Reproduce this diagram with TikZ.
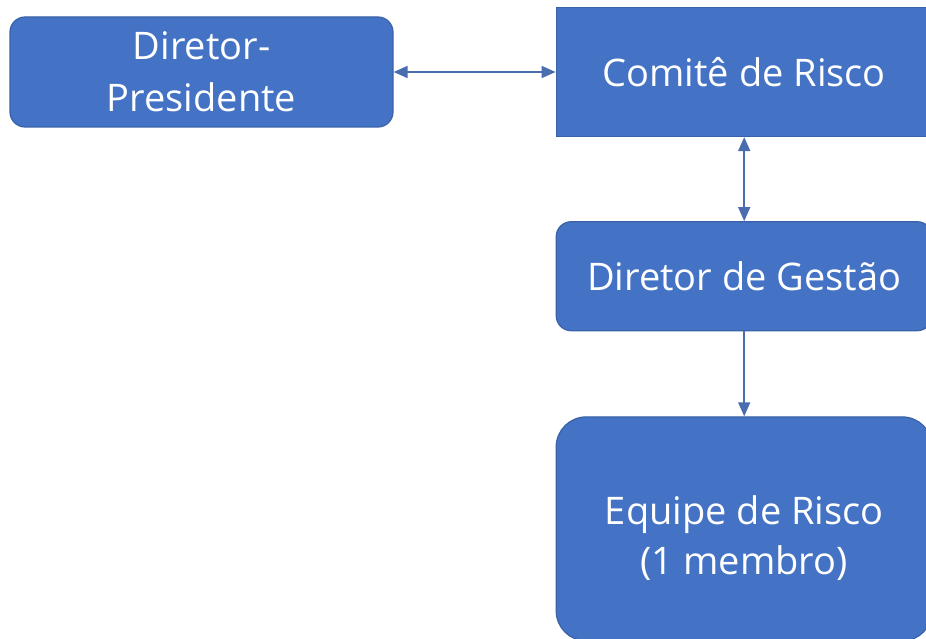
\documentclass[tikz,border=0pt]{standalone}
\usepackage{fontspec}
\setmainfont{Open Sans}
\usetikzlibrary{positioning,arrows.meta}

\definecolor{boxblue}{HTML}{4472C4}
\definecolor{boxline}{HTML}{3A62A8}
\definecolor{arrowblue}{HTML}{4A6DB0}

\tikzstyle{block} = [draw=boxline, fill=boxblue, rectangle, line width=1.2pt,
    text=white, align=center, font=\fontsize{38}{52}\selectfont,
    minimum width=376pt, inner sep=0pt]
\tikzstyle{roundblock} = [block, rounded corners=15pt]
\tikzstyle{link} = [draw=arrowblue, line width=1.6pt,
    {Triangle[length=14pt,width=12pt]}-{Triangle[length=14pt,width=12pt]}]

\begin{document}
\begin{tikzpicture}[auto, node distance=84pt]
    \useasboundingbox (0,0) rectangle (926pt,-639pt);
    \clip (0,0) rectangle (926pt,-639pt);
    \node [roundblock, minimum width=383pt, minimum height=110pt] (dp) at (201.5pt,-72pt) {Diretor-\\Presidente};
    \node [block, minimum height=129pt, right=162pt of dp] (comite) {Comitê de Risco};
    \node [roundblock, minimum height=109pt, below=of comite] (gestao) {Diretor de Gestão};
    \node [roundblock, rounded corners=30pt, minimum height=224pt, below=85pt of gestao] (equipe) {\raisebox{-9pt}[\height][\depth]{\shortstack{Equipe de Risco\\[9pt](1 membro)}}};
    \draw [link] (dp) -- (comite);
    \draw [link] (comite) -- (gestao);
    \draw [link, -{Triangle[length=14pt,width=12pt]}] (gestao) -- (equipe);
\end{tikzpicture}
\end{document}
